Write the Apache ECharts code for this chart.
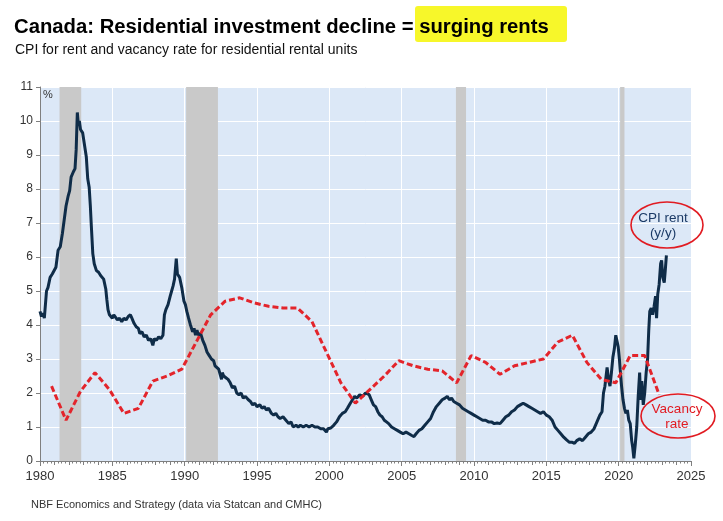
<!DOCTYPE html>
<html>
<head>
<meta charset="utf-8">
<script src="https://cdn.jsdelivr.net/npm/echarts@6/dist/echarts.min.js"></script>
<style>
  html, body { margin: 0; padding: 0; background: #fff; }
  #chart { width: 723px; height: 521px; }
</style>
</head>
<body>
<div id="chart"></div>
<script>
// CPI rent y/y (%) (decimal year)
var rentDates = [
  1980.0,1980.1,1980.2,1980.3,1980.45,1980.55,1980.7,1980.85,1981.1,1981.25,1981.4,1981.55,1981.65,1981.8,1981.95,
  1982.05,1982.15,1982.3,1982.42,1982.5,1982.58,1982.65,1982.72,1982.8,1982.95,1983.05,1983.2,1983.3,1983.4,1983.48,
  1983.55,1983.65,1983.75,1983.9,1984.05,1984.2,1984.3,1984.4,1984.5,1984.55,1984.62,1984.7,1984.8,1984.9,1985.0,
  1985.1,1985.2,1985.35,1985.5,1985.65,1985.8,1985.95,1986.1,1986.25,1986.35,1986.5,1986.65,1986.8,1986.9,1987.05,
  1987.2,1987.35,1987.5,1987.65,1987.8,1987.9,1988.05,1988.2,1988.35,1988.5,1988.6,1988.7,1988.85,1989.0,1989.1,
  1989.2,1989.3,1989.42,1989.5,1989.65,1989.8,1989.95,1990.05,1990.15,1990.27,1990.4,1990.55,1990.65,1990.75,1990.85,
  1990.95,1991.1,1991.25,1991.4,1991.55,1991.7,1991.85,1992.0,1992.1,1992.2,1992.35,1992.45,1992.55,1992.6,1992.7,
  1992.85,1993.0,1993.15,1993.3,1993.45,1993.6,1993.75,1993.9,1994.05,1994.2,1994.4,1994.55,1994.7,1994.85,1995.0,
  1995.2,1995.35,1995.5,1995.65,1995.8,1996.0,1996.15,1996.3,1996.45,1996.6,1996.8,1997.0,1997.2,1997.35,1997.5,
  1997.7,1997.85,1998.0,1998.2,1998.4,1998.6,1998.8,1999.0,1999.2,1999.4,1999.6,1999.8,1999.9,2000.1,2000.3,
  2000.5,2000.7,2000.9,2001.1,2001.25,2001.45,2001.6,2001.75,2001.9,2002.1,2002.3,2002.5,2002.6,2002.75,2002.9,
  2003.05,2003.2,2003.35,2003.5,2003.65,2003.8,2003.95,2004.1,2004.3,2004.5,2004.7,2004.9,2005.1,2005.3,2005.5,
  2005.7,2005.85,2006.0,2006.2,2006.4,2006.6,2006.8,2007.0,2007.2,2007.4,2007.6,2007.8,2008.0,2008.15,2008.3,
  2008.45,2008.6,2008.8,2009.0,2009.2,2009.4,2009.6,2009.8,2010.0,2010.2,2010.4,2010.6,2010.8,2011.0,2011.2,
  2011.4,2011.6,2011.8,2012.0,2012.2,2012.4,2012.6,2012.8,2013.0,2013.2,2013.4,2013.6,2013.8,2014.0,2014.2,
  2014.4,2014.6,2014.8,2015.0,2015.2,2015.4,2015.6,2015.8,2016.0,2016.2,2016.4,2016.6,2016.8,2016.95,2017.1,
  2017.3,2017.5,2017.7,2017.9,2018.1,2018.3,2018.5,2018.7,2018.85,2018.95,2019.05,2019.2,2019.3,2019.4,2019.5,
  2019.6,2019.7,2019.8,2019.9,2019.97,2020.05,2020.1,2020.2,2020.3,2020.4,2020.5,2020.6,2020.7,2020.8,2020.9,
  2020.97,2021.05,2021.15,2021.25,2021.35,2021.45,2021.52,2021.6,2021.7,2021.8,2021.9,2022.0,2022.08,2022.15,2022.25,
  2022.35,2022.45,2022.55,2022.62,2022.7,2022.8,2022.9,2022.97,2023.05,2023.15,2023.22,2023.3
];
var rentValues = [
  4.4,4.25,4.35,4.2,5.0,5.1,5.4,5.5,5.7,6.2,6.3,6.7,6.75,7.5,7.8,
  7.95,8.35,8.5,8.6,9.15,10.25,9.9,10.0,9.75,9.65,9.6,8.95,8.3,8.05,7.5,
  6.9,6.1,5.8,5.6,5.55,5.45,5.5,5.35,5.4,5.05,4.75,4.45,4.3,4.35,4.2,
  4.3,4.25,4.15,4.2,4.1,4.2,4.15,4.25,4.3,4.2,4.05,3.95,3.9,3.75,3.8,
  3.65,3.7,3.55,3.6,3.4,3.6,3.55,3.65,3.6,3.7,4.3,4.45,4.6,4.85,5.0,
  5.15,5.35,5.95,5.5,5.4,5.1,4.7,4.6,4.4,4.2,4.0,3.8,3.9,3.7,3.85,
  3.7,3.75,3.55,3.4,3.2,3.1,3.0,2.95,2.8,2.85,2.7,2.75,2.4,2.6,2.5,
  2.45,2.4,2.3,2.15,2.2,2.0,1.95,2.0,1.85,1.9,1.8,1.75,1.65,1.7,1.6,
  1.65,1.55,1.6,1.5,1.55,1.4,1.35,1.4,1.3,1.25,1.3,1.2,1.1,1.15,1.0,
  1.05,1.0,1.05,1.0,1.05,1.0,1.05,1.0,1.0,0.95,0.95,0.85,0.95,0.97,1.05,
  1.15,1.3,1.4,1.45,1.55,1.7,1.8,1.9,1.85,1.95,1.9,2.0,2.05,1.95,1.8,
  1.65,1.6,1.45,1.35,1.3,1.2,1.15,1.1,1.0,0.95,0.9,0.85,0.8,0.85,0.8,
  0.75,0.72,0.8,0.9,0.95,1.05,1.15,1.25,1.45,1.6,1.7,1.8,1.85,1.9,1.8,
  1.85,1.75,1.7,1.65,1.55,1.5,1.45,1.4,1.35,1.3,1.25,1.2,1.2,1.15,1.15,
  1.1,1.12,1.1,1.2,1.3,1.35,1.45,1.5,1.6,1.65,1.7,1.65,1.6,1.55,1.5,
  1.45,1.4,1.45,1.35,1.3,1.2,1.0,0.9,0.8,0.7,0.62,0.55,0.55,0.52,0.6,
  0.65,0.6,0.7,0.8,0.85,0.95,1.15,1.35,1.45,2.0,2.2,2.75,2.4,2.2,2.6,
  3.05,3.3,3.7,3.5,3.35,3.0,2.7,2.2,1.8,1.55,1.4,1.5,1.2,1.1,0.6,
  0.4,0.08,0.5,1.0,1.9,2.6,1.8,2.35,1.65,2.0,2.6,3.0,3.85,4.4,4.5,
  4.3,4.55,4.85,4.2,4.9,5.2,5.8,5.9,5.4,5.25,5.6,6.05
];

// Rental vacancy rate (%), annual October survey
var vacancyYears = [
  1980,1981,1982,1983,1984,1985,1986,1987,1988,1989,1990,1991,1992,1993,1994,
  1995,1996,1997,1998,1999,2000,2001,2002,2003,2004,2005,2006,2007,2008,2009,
  2010,2011,2012,2013,2014,2015,2016,2017,2018,2019,2020,2021,2022
];
var vacancyValues = [
  2.2,1.2,2.05,2.6,2.1,1.4,1.55,2.35,2.5,2.7,3.5,4.3,4.7,4.8,4.65,
  4.55,4.5,4.5,4.1,3.2,2.3,1.7,2.1,2.5,2.95,2.8,2.7,2.65,2.3,3.1,
  2.9,2.55,2.8,2.9,3.0,3.5,3.7,2.9,2.4,2.3,3.1,3.1,1.95
];

// recession periods (shaded)
var recessions = [[1981.35, 1982.85], [1990.1, 1992.3], [2008.75, 2009.45], [2020.1, 2020.4]];

var xTicks = ['1980','1985','1990','1995','2000','2005','2010','2015','2020','2025'];

var rentData = rentDates.map(function (d, i) { return [d, rentValues[i]]; });
// survey month is October
var vacancyData = vacancyYears.map(function (y, i) { return [y + 0.8, vacancyValues[i]]; });

var FONT = 'Liberation Sans, Arial, sans-serif';
var chart = echarts.init(document.getElementById('chart'));
var option = {
  animation: false,
  backgroundColor: '#ffffff',
  textStyle: { fontFamily: FONT },
  grid: {
    left: 40, right: 32, top: 87, bottom: 60,
    show: true, backgroundColor: '#dce8f7', borderWidth: 0
  },
  xAxis: [{
    type: 'value', min: 1980, max: 2025, interval: 5,
    axisLine: { show: true, lineStyle: { color: '#7f7f7f', width: 1 } },
    axisTick: { show: true, length: 5, lineStyle: { color: '#7f7f7f' } },
    minorTick: { show: true, splitNumber: 20, length: 2.5, lineStyle: { color: '#7f7f7f' } },
    axisLabel: { color: '#333', fontSize: 13, margin: 9, formatter: function (v) { return xTicks[(v - 1980) / 5]; } },
    splitLine: { show: true, lineStyle: { color: '#ffffff', width: 1 } }
  }, {
    type: 'value', min: 1980, max: 2025, interval: 1, position: 'bottom',
    axisLine: { show: false },
    axisTick: { show: true, length: 4, lineStyle: { color: '#7f7f7f' } },
    axisLabel: { show: false },
    splitLine: { show: false }
  }],
  yAxis: {
    type: 'value', min: 0, max: 11, interval: 1,
    axisLine: { show: true, lineStyle: { color: '#7f7f7f', width: 1 } },
    axisTick: { show: true, length: 4, lineStyle: { color: '#7f7f7f' } },
    axisLabel: { color: '#333', fontSize: 12, margin: 7 },
    splitLine: { show: true, lineStyle: { color: '#ffffff', width: 1 } }
  },
  title: [{
    text: 'Canada: Residential investment decline = surging rents',
    left: 9, top: 12,
    textStyle: { fontSize: 20.3, fontWeight: 'bold', color: '#000', fontFamily: FONT }
  }, {
    text: 'CPI for rent and vacancy rate for residential rental units',
    left: 10, top: 38,
    textStyle: { fontSize: 14, fontWeight: 'normal', color: '#111', fontFamily: FONT }
  }, {
    text: 'NBF Economics and Strategy (data via Statcan and CMHC)',
    left: 26, top: 494,
    textStyle: { fontSize: 11, fontWeight: 'normal', color: '#333', fontFamily: FONT }
  }],
  graphic: [
    { type: 'rect', z: -10, shape: { x: 415, y: 6, width: 152, height: 36, r: 3 }, style: { fill: '#f7f72a' } },
    { type: 'text', z: 100, left: 43, top: 89, style: { text: '%', fontSize: 11, fill: '#333', fontFamily: FONT } },
    { type: 'ellipse', z: 100, shape: { cx: 667, cy: 225, rx: 36, ry: 23 }, style: { fill: 'none', stroke: '#e11b22', lineWidth: 1.6 } },
    { type: 'text', z: 100, x: 663, y: 211, style: { text: 'CPI rent\n(y/y)', align: 'center', fontSize: 13.5, lineHeight: 15, fill: '#1b3a66', fontFamily: FONT } },
    { type: 'ellipse', z: 100, shape: { cx: 678, cy: 416, rx: 37, ry: 22 }, style: { fill: 'none', stroke: '#e11b22', lineWidth: 1.6 } },
    { type: 'text', z: 100, x: 677, y: 402, style: { text: 'Vacancy\nrate', align: 'center', fontSize: 13.5, lineHeight: 15, fill: '#e11b22', fontFamily: FONT } }
  ],
  series: [{
    name: 'Recessions',
    type: 'line',
    data: [],
    markArea: {
      silent: true,
      itemStyle: { color: '#c9c9c9', opacity: 1 },
      data: recessions.map(function (r) { return [{ xAxis: r[0] }, { xAxis: r[1] }]; })
    }
  }, {
    name: 'CPI rent (y/y)',
    type: 'line',
    data: rentData,
    showSymbol: false,
    lineStyle: { color: '#0f2c48', width: 3 },
    z: 3
  }, {
    name: 'Vacancy rate',
    type: 'line',
    data: vacancyData,
    showSymbol: false,
    lineStyle: { color: '#e3242b', width: 3, type: [6, 3] },
    z: 4
  }]
};
chart.setOption(option);
</script>
</body>
</html>
